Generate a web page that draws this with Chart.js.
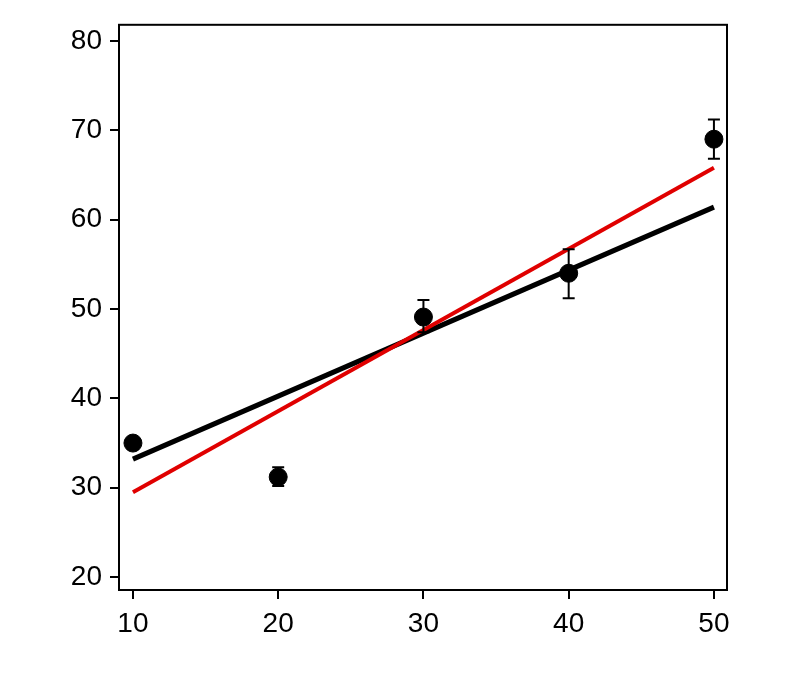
<!DOCTYPE html>
<html><head><meta charset="utf-8">
<script src="https://cdn.jsdelivr.net/npm/chart.js@4"></script>
<style>body{margin:0;background:#fff}#wrap{width:800px;height:690px}</style>
</head><body><div id="wrap"><canvas id="c"></canvas></div>
<script>
// --- Data ---
const xVals = [10, 20, 30, 40, 50];
const yVals = [35, 31.2, 49.1, 54, 69];
const errLow = [35, 30.2, 47.4, 51.2, 66.8];
const errHigh = [35, 32.3, 51, 56.7, 71.2];
const blackFit = [[10, 33.2], [50, 61.4]];
const redFit = [[10, 29.5], [50, 65.8]];
const xTicks = [10, 20, 30, 40, 50];
const yTicks = [20, 30, 40, 50, 60, 70, 80];

// error bars + box frame
const extras = {
  id: "extras",
  afterDatasetsDraw(chart) {
    const {ctx, scales:{x, y}, chartArea:a} = chart;
    ctx.save();
    ctx.strokeStyle = "#000"; ctx.lineWidth = 2;
    xVals.forEach((v, i) => {
      if (errHigh[i] - errLow[i] <= 0) return;
      const px = x.getPixelForValue(v);
      const y1 = y.getPixelForValue(errLow[i]), y2 = y.getPixelForValue(errHigh[i]);
      ctx.beginPath();
      ctx.moveTo(px, y1); ctx.lineTo(px, y2);
      ctx.moveTo(px-6, y1); ctx.lineTo(px+6, y1);
      ctx.moveTo(px-6, y2); ctx.lineTo(px+6, y2);
      ctx.stroke();
    });
    ctx.strokeRect(a.left, a.top, a.right - a.left, a.bottom - a.top);
    ctx.restore();
  }
};

const tickFont = {family: "Liberation Sans", size: 28};
new Chart(document.getElementById("c"), {
  type: "scatter",
  data: {datasets: [
    {data: blackFit.map(p => ({x:p[0], y:p[1]})), showLine: true, borderColor: "#000", borderWidth: 5, pointRadius: 0, order: 2},
    {data: redFit.map(p => ({x:p[0], y:p[1]})), showLine: true, borderColor: "#e00000", borderWidth: 4, pointRadius: 0, order: 1},
    {data: xVals.map((v,i) => ({x:v, y:yVals[i]})), backgroundColor: "#000", borderColor: "#000", pointRadius: 9, order: 0}
  ]},
  options: {
    responsive: true, maintainAspectRatio: false, animation: false,
    layout: {padding: {top: 18, right: 73, left: 0, bottom: 0}},
    plugins: {legend: {display: false}, tooltip: {enabled: false}},
    scales: {
      x: {
        min: 9.04, max: 50.9,
        afterBuildTicks: s => { s.ticks = xTicks.map(v => ({value: v})); },
        afterFit: s => { s.height = 100; },
        border: {color: "#000", width: 2},
        grid: {drawOnChartArea: false, color: "#000", lineWidth: 2, tickLength: 9},
        ticks: {color: "#000", font: tickFont, padding: 8, maxRotation: 0}
      },
      y: {
        min: 18.56, max: 81.8,
        afterBuildTicks: s => { s.ticks = yTicks.map(v => ({value: v})); },
        afterFit: s => { s.width = 119; },
        border: {color: "#000", width: 2},
        grid: {drawOnChartArea: false, color: "#000", lineWidth: 2, tickLength: 9},
        ticks: {color: "#000", font: tickFont, padding: 8}
      }
    }
  },
  plugins: [extras]
});
</script></body></html>
